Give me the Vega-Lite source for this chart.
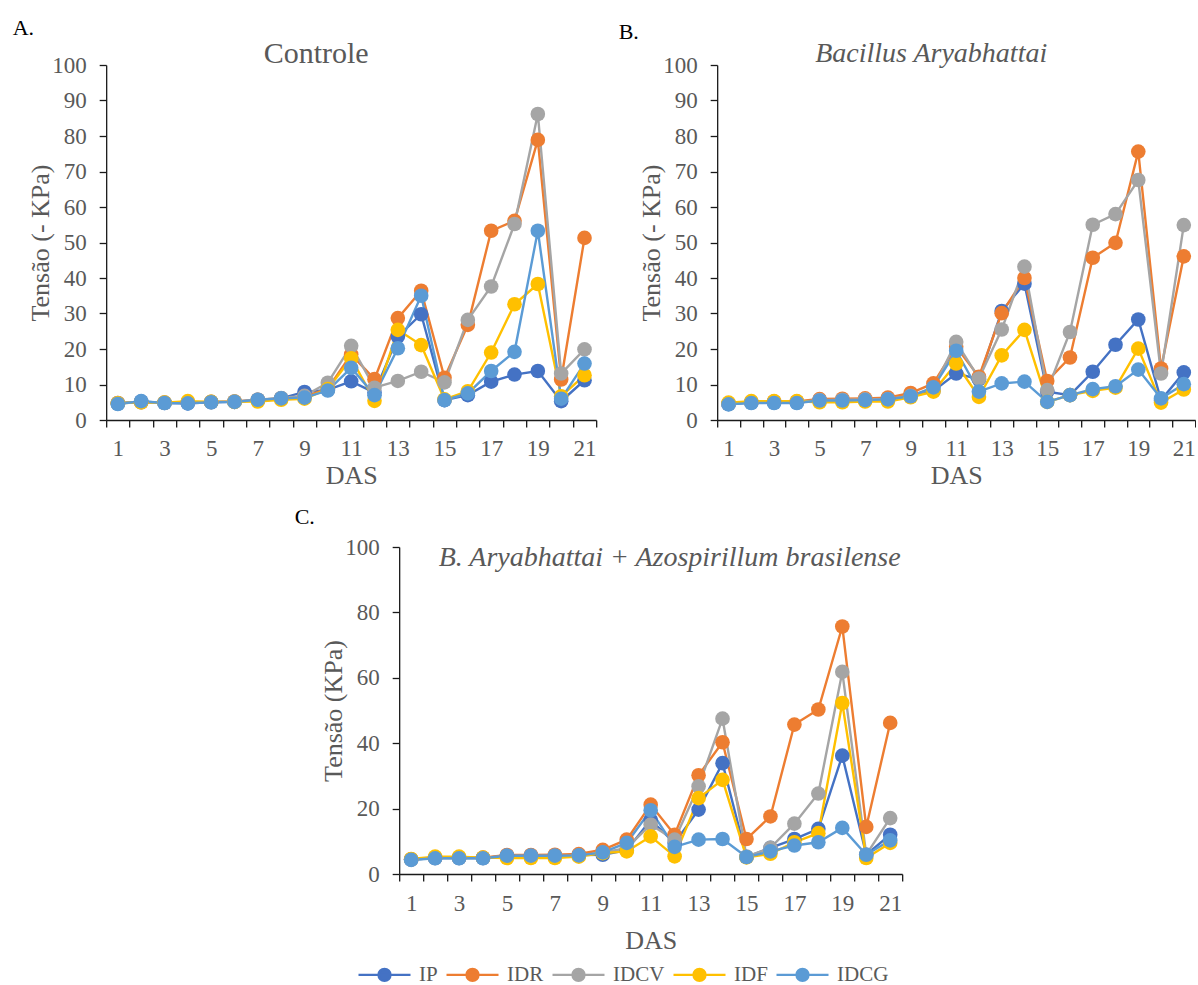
{
"$schema":"https://vega.github.io/schema/vega-lite/v6.json",
"padding":{"left":12,"top":17,"right":0,"bottom":40},
"background":"white",
"config":{
 "font":"Liberation Serif",
 "view":{"stroke":null},
 "axis":{"grid":false,"labelFont":"Liberation Serif","labelFontSize":23,"labelColor":"#595959","titleFont":"Liberation Serif","titleFontSize":26,"titleColor":"#595959","titleFontWeight":"normal","domainColor":"#1a1a1a","tickColor":"#1a1a1a","domainWidth":1.3,"tickWidth":1.3,"tickSize":7},
 "title":{"font":"Liberation Serif","fontWeight":"normal","baseline":"alphabetic"},
 "line":{"strokeWidth":2.4},
 "point":{"filled":true,"size":214,"opacity":1}
},
"datasets":{
"A":[
{"s":"IP","d":1,"v":4.6},{"s":"IP","d":2,"v":5.2},{"s":"IP","d":3,"v":4.8},{"s":"IP","d":4,"v":4.7},{"s":"IP","d":5,"v":5.0},{"s":"IP","d":6,"v":5.1},{"s":"IP","d":7,"v":5.6},{"s":"IP","d":8,"v":6.1},{"s":"IP","d":9,"v":7.9},{"s":"IP","d":10,"v":8.5},{"s":"IP","d":11,"v":10.9},{"s":"IP","d":12,"v":7.7},{"s":"IP","d":13,"v":23.5},{"s":"IP","d":14,"v":29.8},{"s":"IP","d":15,"v":5.6},{"s":"IP","d":16,"v":7.0},{"s":"IP","d":17,"v":10.8},{"s":"IP","d":18,"v":12.8},{"s":"IP","d":19,"v":13.8},{"s":"IP","d":20,"v":5.3},{"s":"IP","d":21,"v":11.2},
{"s":"IDR","d":1,"v":4.8},{"s":"IDR","d":2,"v":5.0},{"s":"IDR","d":3,"v":4.9},{"s":"IDR","d":4,"v":5.0},{"s":"IDR","d":5,"v":5.1},{"s":"IDR","d":6,"v":5.2},{"s":"IDR","d":7,"v":5.7},{"s":"IDR","d":8,"v":6.1},{"s":"IDR","d":9,"v":6.6},{"s":"IDR","d":10,"v":8.8},{"s":"IDR","d":11,"v":18.5},{"s":"IDR","d":12,"v":11.5},{"s":"IDR","d":13,"v":28.7},{"s":"IDR","d":14,"v":36.4},{"s":"IDR","d":15,"v":11.9},{"s":"IDR","d":16,"v":26.8},{"s":"IDR","d":17,"v":53.3},{"s":"IDR","d":18,"v":56.1},{"s":"IDR","d":19,"v":78.9},{"s":"IDR","d":20,"v":11.4},{"s":"IDR","d":21,"v":51.3},
{"s":"IDCV","d":1,"v":4.8},{"s":"IDCV","d":2,"v":5.0},{"s":"IDCV","d":3,"v":4.9},{"s":"IDCV","d":4,"v":4.9},{"s":"IDCV","d":5,"v":5.1},{"s":"IDCV","d":6,"v":5.2},{"s":"IDCV","d":7,"v":5.7},{"s":"IDCV","d":8,"v":6.2},{"s":"IDCV","d":9,"v":6.8},{"s":"IDCV","d":10,"v":10.5},{"s":"IDCV","d":11,"v":20.9},{"s":"IDCV","d":12,"v":9.1},{"s":"IDCV","d":13,"v":11.0},{"s":"IDCV","d":14,"v":13.6},{"s":"IDCV","d":15,"v":10.6},{"s":"IDCV","d":16,"v":28.2},{"s":"IDCV","d":17,"v":37.6},{"s":"IDCV","d":18,"v":55.2},{"s":"IDCV","d":19,"v":86.2},{"s":"IDCV","d":20,"v":13.1},{"s":"IDCV","d":21,"v":19.9},
{"s":"IDF","d":1,"v":4.7},{"s":"IDF","d":2,"v":5.0},{"s":"IDF","d":3,"v":4.9},{"s":"IDF","d":4,"v":5.3},{"s":"IDF","d":5,"v":5.1},{"s":"IDF","d":6,"v":5.1},{"s":"IDF","d":7,"v":5.2},{"s":"IDF","d":8,"v":5.7},{"s":"IDF","d":9,"v":6.0},{"s":"IDF","d":10,"v":8.7},{"s":"IDF","d":11,"v":17.4},{"s":"IDF","d":12,"v":5.4},{"s":"IDF","d":13,"v":25.4},{"s":"IDF","d":14,"v":21.1},{"s":"IDF","d":15,"v":5.8},{"s":"IDF","d":16,"v":8.1},{"s":"IDF","d":17,"v":19.0},{"s":"IDF","d":18,"v":32.6},{"s":"IDF","d":19,"v":38.3},{"s":"IDF","d":20,"v":6.7},{"s":"IDF","d":21,"v":12.6},
{"s":"IDCG","d":1,"v":4.5},{"s":"IDCG","d":2,"v":5.3},{"s":"IDCG","d":3,"v":4.8},{"s":"IDCG","d":4,"v":4.7},{"s":"IDCG","d":5,"v":5.0},{"s":"IDCG","d":6,"v":5.1},{"s":"IDCG","d":7,"v":5.7},{"s":"IDCG","d":8,"v":6.1},{"s":"IDCG","d":9,"v":6.3},{"s":"IDCG","d":10,"v":8.3},{"s":"IDCG","d":11,"v":14.7},{"s":"IDCG","d":12,"v":7.0},{"s":"IDCG","d":13,"v":20.2},{"s":"IDCG","d":14,"v":35.0},{"s":"IDCG","d":15,"v":5.6},{"s":"IDCG","d":16,"v":7.5},{"s":"IDCG","d":17,"v":13.8},{"s":"IDCG","d":18,"v":19.2},{"s":"IDCG","d":19,"v":53.3},{"s":"IDCG","d":20,"v":6.0},{"s":"IDCG","d":21,"v":15.9}
],
"B":[
{"s":"IP","d":1,"v":4.5},{"s":"IP","d":2,"v":4.9},{"s":"IP","d":3,"v":4.9},{"s":"IP","d":4,"v":4.9},{"s":"IP","d":5,"v":5.5},{"s":"IP","d":6,"v":5.5},{"s":"IP","d":7,"v":5.6},{"s":"IP","d":8,"v":5.8},{"s":"IP","d":9,"v":6.9},{"s":"IP","d":10,"v":8.2},{"s":"IP","d":11,"v":13.1},{"s":"IP","d":12,"v":11.5},{"s":"IP","d":13,"v":30.7},{"s":"IP","d":14,"v":38.4},{"s":"IP","d":15,"v":8.0},{"s":"IP","d":16,"v":7.0},{"s":"IP","d":17,"v":13.6},{"s":"IP","d":18,"v":21.2},{"s":"IP","d":19,"v":28.3},{"s":"IP","d":20,"v":5.6},{"s":"IP","d":21,"v":13.4},
{"s":"IDR","d":1,"v":4.6},{"s":"IDR","d":2,"v":5.1},{"s":"IDR","d":3,"v":5.2},{"s":"IDR","d":4,"v":5.2},{"s":"IDR","d":5,"v":5.9},{"s":"IDR","d":6,"v":6.0},{"s":"IDR","d":7,"v":6.1},{"s":"IDR","d":8,"v":6.3},{"s":"IDR","d":9,"v":7.6},{"s":"IDR","d":10,"v":10.3},{"s":"IDR","d":11,"v":20.6},{"s":"IDR","d":12,"v":12.2},{"s":"IDR","d":13,"v":30.1},{"s":"IDR","d":14,"v":40.0},{"s":"IDR","d":15,"v":11.0},{"s":"IDR","d":16,"v":17.6},{"s":"IDR","d":17,"v":45.7},{"s":"IDR","d":18,"v":49.9},{"s":"IDR","d":19,"v":75.6},{"s":"IDR","d":20,"v":14.5},{"s":"IDR","d":21,"v":46.1},
{"s":"IDCV","d":1,"v":4.5},{"s":"IDCV","d":2,"v":5.0},{"s":"IDCV","d":3,"v":5.1},{"s":"IDCV","d":4,"v":5.1},{"s":"IDCV","d":5,"v":5.6},{"s":"IDCV","d":6,"v":5.7},{"s":"IDCV","d":7,"v":5.8},{"s":"IDCV","d":8,"v":5.9},{"s":"IDCV","d":9,"v":6.8},{"s":"IDCV","d":10,"v":9.0},{"s":"IDCV","d":11,"v":22.0},{"s":"IDCV","d":12,"v":11.7},{"s":"IDCV","d":13,"v":25.5},{"s":"IDCV","d":14,"v":43.2},{"s":"IDCV","d":15,"v":8.4},{"s":"IDCV","d":16,"v":24.8},{"s":"IDCV","d":17,"v":55.0},{"s":"IDCV","d":18,"v":58.0},{"s":"IDCV","d":19,"v":67.6},{"s":"IDCV","d":20,"v":13.1},{"s":"IDCV","d":21,"v":54.9},
{"s":"IDF","d":1,"v":4.9},{"s":"IDF","d":2,"v":5.3},{"s":"IDF","d":3,"v":5.3},{"s":"IDF","d":4,"v":5.3},{"s":"IDF","d":5,"v":5.0},{"s":"IDF","d":6,"v":5.0},{"s":"IDF","d":7,"v":5.2},{"s":"IDF","d":8,"v":5.2},{"s":"IDF","d":9,"v":6.4},{"s":"IDF","d":10,"v":8.0},{"s":"IDF","d":11,"v":15.9},{"s":"IDF","d":12,"v":6.5},{"s":"IDF","d":13,"v":18.2},{"s":"IDF","d":14,"v":25.4},{"s":"IDF","d":15,"v":5.1},{"s":"IDF","d":16,"v":7.0},{"s":"IDF","d":17,"v":8.2},{"s":"IDF","d":18,"v":9.1},{"s":"IDF","d":19,"v":20.1},{"s":"IDF","d":20,"v":4.9},{"s":"IDF","d":21,"v":8.6},
{"s":"IDCG","d":1,"v":4.4},{"s":"IDCG","d":2,"v":4.8},{"s":"IDCG","d":3,"v":4.8},{"s":"IDCG","d":4,"v":4.8},{"s":"IDCG","d":5,"v":5.5},{"s":"IDCG","d":6,"v":5.5},{"s":"IDCG","d":7,"v":5.6},{"s":"IDCG","d":8,"v":5.8},{"s":"IDCG","d":9,"v":6.7},{"s":"IDCG","d":10,"v":9.2},{"s":"IDCG","d":11,"v":19.5},{"s":"IDCG","d":12,"v":8.0},{"s":"IDCG","d":13,"v":10.3},{"s":"IDCG","d":14,"v":10.8},{"s":"IDCG","d":15,"v":5.1},{"s":"IDCG","d":16,"v":7.0},{"s":"IDCG","d":17,"v":8.7},{"s":"IDCG","d":18,"v":9.5},{"s":"IDCG","d":19,"v":14.2},{"s":"IDCG","d":20,"v":6.1},{"s":"IDCG","d":21,"v":10.1}
],
"C":[
{"s":"IP","d":1,"v":4.4},{"s":"IP","d":2,"v":4.9},{"s":"IP","d":3,"v":4.9},{"s":"IP","d":4,"v":4.9},{"s":"IP","d":5,"v":5.6},{"s":"IP","d":6,"v":5.6},{"s":"IP","d":7,"v":5.6},{"s":"IP","d":8,"v":5.8},{"s":"IP","d":9,"v":5.9},{"s":"IP","d":10,"v":7.3},{"s":"IP","d":11,"v":16.5},{"s":"IP","d":12,"v":9.5},{"s":"IP","d":13,"v":19.7},{"s":"IP","d":14,"v":33.9},{"s":"IP","d":15,"v":5.2},{"s":"IP","d":16,"v":8.0},{"s":"IP","d":17,"v":10.7},{"s":"IP","d":18,"v":13.8},{"s":"IP","d":19,"v":36.2},{"s":"IP","d":20,"v":5.9},{"s":"IP","d":21,"v":12.0},
{"s":"IDR","d":1,"v":4.5},{"s":"IDR","d":2,"v":5.0},{"s":"IDR","d":3,"v":5.0},{"s":"IDR","d":4,"v":5.0},{"s":"IDR","d":5,"v":5.8},{"s":"IDR","d":6,"v":5.8},{"s":"IDR","d":7,"v":5.9},{"s":"IDR","d":8,"v":6.1},{"s":"IDR","d":9,"v":7.4},{"s":"IDR","d":10,"v":10.5},{"s":"IDR","d":11,"v":21.2},{"s":"IDR","d":12,"v":12.0},{"s":"IDR","d":13,"v":30.2},{"s":"IDR","d":14,"v":40.3},{"s":"IDR","d":15,"v":10.7},{"s":"IDR","d":16,"v":17.6},{"s":"IDR","d":17,"v":45.7},{"s":"IDR","d":18,"v":50.3},{"s":"IDR","d":19,"v":75.7},{"s":"IDR","d":20,"v":14.4},{"s":"IDR","d":21,"v":46.2},
{"s":"IDCV","d":1,"v":4.4},{"s":"IDCV","d":2,"v":4.9},{"s":"IDCV","d":3,"v":4.9},{"s":"IDCV","d":4,"v":4.9},{"s":"IDCV","d":5,"v":5.5},{"s":"IDCV","d":6,"v":5.5},{"s":"IDCV","d":7,"v":5.5},{"s":"IDCV","d":8,"v":5.6},{"s":"IDCV","d":9,"v":6.5},{"s":"IDCV","d":10,"v":8.0},{"s":"IDCV","d":11,"v":15.1},{"s":"IDCV","d":12,"v":10.5},{"s":"IDCV","d":13,"v":26.8},{"s":"IDCV","d":14,"v":47.5},{"s":"IDCV","d":15,"v":5.3},{"s":"IDCV","d":16,"v":8.0},{"s":"IDCV","d":17,"v":15.4},{"s":"IDCV","d":18,"v":24.6},{"s":"IDCV","d":19,"v":61.8},{"s":"IDCV","d":20,"v":5.9},{"s":"IDCV","d":21,"v":17.1},
{"s":"IDF","d":1,"v":4.6},{"s":"IDF","d":2,"v":5.3},{"s":"IDF","d":3,"v":5.3},{"s":"IDF","d":4,"v":5.0},{"s":"IDF","d":5,"v":4.9},{"s":"IDF","d":6,"v":4.9},{"s":"IDF","d":7,"v":4.9},{"s":"IDF","d":8,"v":5.3},{"s":"IDF","d":9,"v":6.4},{"s":"IDF","d":10,"v":6.9},{"s":"IDF","d":11,"v":11.5},{"s":"IDF","d":12,"v":5.4},{"s":"IDF","d":13,"v":23.2},{"s":"IDF","d":14,"v":28.8},{"s":"IDF","d":15,"v":5.1},{"s":"IDF","d":16,"v":6.2},{"s":"IDF","d":17,"v":9.7},{"s":"IDF","d":18,"v":12.5},{"s":"IDF","d":19,"v":52.3},{"s":"IDF","d":20,"v":4.9},{"s":"IDF","d":21,"v":9.5},
{"s":"IDCG","d":1,"v":4.3},{"s":"IDCG","d":2,"v":4.8},{"s":"IDCG","d":3,"v":4.8},{"s":"IDCG","d":4,"v":4.8},{"s":"IDCG","d":5,"v":5.6},{"s":"IDCG","d":6,"v":5.6},{"s":"IDCG","d":7,"v":5.6},{"s":"IDCG","d":8,"v":5.7},{"s":"IDCG","d":9,"v":6.6},{"s":"IDCG","d":10,"v":9.5},{"s":"IDCG","d":11,"v":19.5},{"s":"IDCG","d":12,"v":8.3},{"s":"IDCG","d":13,"v":10.5},{"s":"IDCG","d":14,"v":10.7},{"s":"IDCG","d":15,"v":5.2},{"s":"IDCG","d":16,"v":6.9},{"s":"IDCG","d":17,"v":8.7},{"s":"IDCG","d":18,"v":9.7},{"s":"IDCG","d":19,"v":14.1},{"s":"IDCG","d":20,"v":5.9},{"s":"IDCG","d":21,"v":10.3}
]
},
"vconcat":[
 {"hconcat":[
  {"title":{"text":"A.","anchor":"start","fontSize":22,"color":"#000000","dx":-15,"offset":-1},
   "vconcat":[{
    "width":490,"height":355,
    "title":{"text":"Controle","fontSize":30,"color":"#595959","offset":-15,"dx":-35},
    "data":{"name":"A"},
    "encoding":{
     "x":{"field":"d","type":"ordinal","title":"DAS","scale":{"paddingInner":0,"paddingOuter":0},"axis":{"labelAngle":0,"labelExpr":"datum.value % 2 == 1 ? datum.label : ''","labelOverlap":false,"tickBand":"extent","labelPadding":10,"titlePadding":2}},
     "y":{"field":"v","type":"quantitative","title":"Tensão (- KPa)","scale":{"domain":[0,100],"nice":false},"axis":{"values":[0,10,20,30,40,50,60,70,80,90,100],"labelPadding":13,"titlePadding":-2}},
     "color":{"field":"s","type":"nominal","scale":{"domain":["IP","IDR","IDCV","IDF","IDCG"],"range":["#4472C4","#ED7D31","#A5A5A5","#FFC000","#5B9BD5"]},
      "legend":{"orient":"none","legendX":251,"legendY":882,"direction":"horizontal","title":null,"symbolType":"M-1,0L1,0M-0.23,0A0.23,0.23 0 1,0 0.23,0A0.23,0.23 0 1,0 -0.23,0Z","symbolSize":2704,"symbolStrokeWidth":2,"labelFont":"Liberation Serif","labelFontSize":21,"labelColor":"#595959","labelOffset":7,"columnPadding":3}}
    },
    "layer":[{"mark":{"type":"line"}},{"mark":{"type":"point"}}]
   }]
  },
  {"title":{"text":"B.","anchor":"start","fontSize":22,"color":"#000000","dx":-20,"offset":-4},
   "vconcat":[{
    "width":478,"height":355,
    "title":{"text":"Bacillus Aryabhattai","fontSize":28,"fontStyle":"italic","color":"#595959","offset":-14,"dx":-25},
    "data":{"name":"B"},
    "encoding":{
     "x":{"field":"d","type":"ordinal","title":"DAS","scale":{"paddingInner":0,"paddingOuter":0},"axis":{"labelAngle":0,"labelExpr":"datum.value % 2 == 1 ? datum.label : ''","labelOverlap":false,"tickBand":"extent","labelPadding":10,"titlePadding":2}},
     "y":{"field":"v","type":"quantitative","title":"Tensão (- KPa)","scale":{"domain":[0,100],"nice":false},"axis":{"values":[0,10,20,30,40,50,60,70,80,90,100],"labelPadding":13,"titlePadding":-2}},
     "color":{"field":"s","type":"nominal","scale":{"domain":["IP","IDR","IDCV","IDF","IDCG"],"range":["#4472C4","#ED7D31","#A5A5A5","#FFC000","#5B9BD5"]},
      "legend":{"orient":"none","legendX":251,"legendY":882,"direction":"horizontal","title":null,"symbolType":"M-1,0L1,0M-0.23,0A0.23,0.23 0 1,0 0.23,0A0.23,0.23 0 1,0 -0.23,0Z","symbolSize":2704,"symbolStrokeWidth":2,"labelFont":"Liberation Serif","labelFontSize":21,"labelColor":"#595959","labelOffset":7,"columnPadding":3}}
    },
    "layer":[{"mark":{"type":"line"}},{"mark":{"type":"point"}}]
   }]
  }
 ],"spacing":21},
 {"title":{"text":"C.","anchor":"start","fontSize":22,"color":"#000000","dx":-26,"offset":7},
  "vconcat":[{
   "width":503,"height":327,
   "title":{"text":"B. Aryabhattai + Azospirillum brasilense","fontSize":28,"fontStyle":"italic","color":"#595959","offset":-36,"dx":19},
   "data":{"name":"C"},
   "encoding":{
    "x":{"field":"d","type":"ordinal","title":"DAS","scale":{"paddingInner":0,"paddingOuter":0},"axis":{"labelAngle":0,"labelExpr":"datum.value % 2 == 1 ? datum.label : ''","labelOverlap":false,"tickBand":"extent","labelPadding":11,"titlePadding":12}},
    "y":{"field":"v","type":"quantitative","title":"Tensão (KPa)","scale":{"domain":[0,100],"nice":false},"axis":{"values":[0,20,40,60,80,100],"labelPadding":13,"titlePadding":-2}},
    "color":{"field":"s","type":"nominal","scale":{"domain":["IP","IDR","IDCV","IDF","IDCG"],"range":["#4472C4","#ED7D31","#A5A5A5","#FFC000","#5B9BD5"]},
     "legend":{"orient":"none","legendX":251,"legendY":882,"direction":"horizontal","title":null,"symbolType":"M-1,0L1,0M-0.23,0A0.23,0.23 0 1,0 0.23,0A0.23,0.23 0 1,0 -0.23,0Z","symbolSize":2704,"symbolStrokeWidth":2,"labelFont":"Liberation Serif","labelFontSize":21,"labelColor":"#595959","labelOffset":7,"columnPadding":3}}
   },
   "layer":[{"mark":{"type":"line"}},{"mark":{"type":"point"}}]
  }]
 }
],
"spacing":18,
"center":true,
"resolve":{"scale":{"color":"shared"}}
}
